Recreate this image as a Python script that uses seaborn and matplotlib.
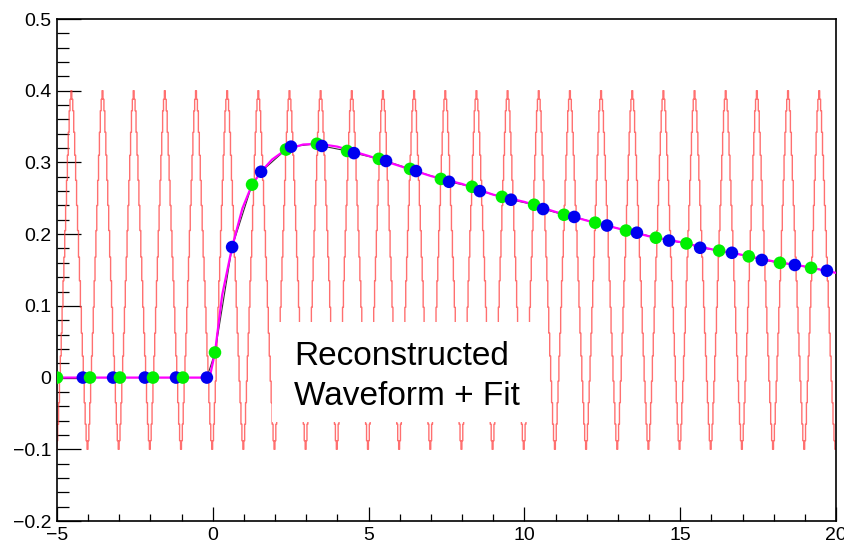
import numpy as np
import pandas as pd
import seaborn as sns
import matplotlib.pyplot as plt
from matplotlib.ticker import MultipleLocator, FuncFormatter
from matplotlib.patches import Rectangle

# reconstructed samples
green_x = [-5.0, -3.94, -2.98, -1.92, -0.96, 0.07, 1.26, 2.35, 3.34, 4.31, 5.33, 6.33,
           7.32, 8.32, 9.28, 10.31, 11.27, 12.27, 13.26, 14.22, 15.2, 16.25, 17.2, 18.2, 19.2]
green_y = [0.0, 0.0, 0.0, 0.0, 0.0, 0.035, 0.269, 0.318, 0.326, 0.316, 0.305, 0.291,
           0.277, 0.266, 0.252, 0.241, 0.227, 0.216, 0.205, 0.195, 0.187, 0.177, 0.169, 0.160, 0.153]
blue_x = [-4.17, -3.20, -2.18, -1.18, -0.19, 0.62, 1.55, 2.51, 3.50, 4.53, 5.56, 6.52,
          7.58, 8.57, 9.57, 10.60, 11.6, 12.65, 13.61, 14.64, 15.64, 16.66, 17.62, 18.68, 19.71]
blue_y = [0.0, 0.0, 0.0, 0.0, 0.0, 0.182, 0.287, 0.322, 0.323, 0.313, 0.302, 0.288,
          0.273, 0.260, 0.248, 0.235, 0.224, 0.212, 0.202, 0.191, 0.181, 0.174, 0.164, 0.157, 0.149]

# fit curve
fit_x = [-5.0, -0.1, 0.07, 0.3, 0.62, 0.95, 1.26, 1.55, 1.9, 2.35, 2.9, 3.4, 4.0, 5.0, 6.0,
         7.0, 8.0, 9.0, 10.0, 11.0, 12.0, 13.0, 14.0, 15.0, 16.0, 17.0, 18.0, 19.0, 20.0]
fit_y = [0.0, 0.0, 0.035, 0.115, 0.182, 0.236, 0.269, 0.287, 0.304, 0.318, 0.325, 0.326,
         0.322, 0.309, 0.295, 0.281, 0.270, 0.255, 0.245, 0.231, 0.219, 0.208, 0.197,
         0.189, 0.179, 0.171, 0.162, 0.155, 0.146]

# oscillating waveform: trough / peak positions and the staircase levels of one rise
wave_troughs = [-5.02, -4.02, -3.02, -2.02, -1.02, -0.02, 0.98, 1.98, 2.98, 3.98, 4.98, 5.98,
                6.98, 7.98, 8.98, 9.98, 10.98, 11.98, 12.98, 13.98, 14.98, 15.98, 16.98,
                17.98, 18.98, 19.98]
wave_peaks = [-4.54, -3.54, -2.54, -1.54, -0.54, 0.46, 1.46, 2.46, 3.46, 4.46, 5.46, 6.46,
              7.46, 8.46, 9.46, 10.46, 11.46, 12.46, 13.46, 14.46, 15.46, 16.46, 17.46,
              18.46, 19.46]
rise_levels = [-0.10, -0.088, -0.065, -0.035, -0.005, 0.03, 0.062, 0.098, 0.135, 0.168,
               0.205, 0.24, 0.275, 0.31, 0.342, 0.372, 0.388, 0.40]

wx, wy = [], []
n = len(rise_levels)
for i, t in enumerate(wave_troughs[:-1]):
    p = wave_peaks[i]
    t2 = wave_troughs[i + 1]
    for k in range(n - 1):
        wx.append(t + (p - t) * k / (n - 1))
        wy.append(rise_levels[k])
    for k in range(n - 1):
        wx.append(p + (t2 - p) * k / (n - 1))
        wy.append(rise_levels[n - 1 - k])
wx.append(wave_troughs[-1])
wy.append(rise_levels[0])
wave = pd.DataFrame({"x": wx, "y": wy})

pts = pd.concat([
    pd.DataFrame({"x": green_x, "y": green_y, "kind": "green"}),
    pd.DataFrame({"x": blue_x, "y": blue_y, "kind": "blue"}),
]).sort_values("x").reset_index(drop=True)
fit = pd.DataFrame({"x": fit_x, "y": fit_y})

sns.set_style("white")
plt.rcParams["font.family"] = ["Liberation Sans", "DejaVu Sans"]
plt.rcParams["text.color"] = "black"
plt.rcParams["xtick.color"] = "black"
plt.rcParams["ytick.color"] = "black"

fig = plt.figure(figsize=(8.45, 5.46), dpi=100)
ax = fig.add_axes([57 / 845, 1 - 521 / 546, 779 / 845, 502 / 546])

sns.lineplot(data=wave, x="x", y="y", ax=ax, sort=False, estimator=None,
             color="#ff4040", alpha=0.75, linewidth=1.0, drawstyle="steps-mid", zorder=1)
sns.lineplot(data=pts, x="x", y="y", ax=ax, sort=False, estimator=None,
             color="#333333", linewidth=0.8, zorder=2)
sns.lineplot(data=fit, x="x", y="y", ax=ax, sort=False, estimator=None,
             color="#ff00ff", linewidth=1.6, zorder=3)
sns.scatterplot(data=pts, x="x", y="y", hue="kind", ax=ax,
                palette={"green": "#00f000", "blue": "#0000f0"},
                s=82, linewidth=0, legend=False, zorder=5)

# white label box
ax.add_patch(Rectangle((0.276, 0.197), 0.334, 0.199, transform=ax.transAxes,
                       facecolor="white", edgecolor="none", zorder=6))
ax.text(0.304, 0.288, "Reconstructed\nWaveform + Fit", transform=ax.transAxes,
        fontsize=24, ha="left", va="center", linespacing=1.38, color="black", zorder=7)

ax.set_xlim(-5, 20)
ax.set_ylim(-0.2, 0.5)
ax.set_xlabel("")
ax.set_ylabel("")

ax.xaxis.set_major_locator(MultipleLocator(5))
ax.xaxis.set_minor_locator(MultipleLocator(1))
ax.yaxis.set_major_locator(MultipleLocator(0.1))
ax.yaxis.set_minor_locator(MultipleLocator(0.02))
fmt = FuncFormatter(lambda v, _: ("%g" % round(v, 3)).replace("-", "\u2212"))
ax.xaxis.set_major_formatter(fmt)
ax.yaxis.set_major_formatter(fmt)

ax.tick_params(axis="x", which="major", direction="in", length=10, width=0.9,
               labelsize=14, pad=4.5, top=False)
ax.tick_params(axis="x", which="minor", direction="in", length=5, width=0.9, top=False)
ax.tick_params(axis="y", which="major", direction="in", length=17, width=0.9,
               labelsize=14, pad=4, right=False)
ax.tick_params(axis="y", which="minor", direction="in", length=8.5, width=0.9, right=False)
ax.tick_params(which="both", bottom=True, left=True, colors="black", labelcolor="black")

for s in ax.spines.values():
    s.set_visible(True)
    s.set_color("black")
    s.set_linewidth(1.2)

fig.savefig("out.png", dpi=100)
